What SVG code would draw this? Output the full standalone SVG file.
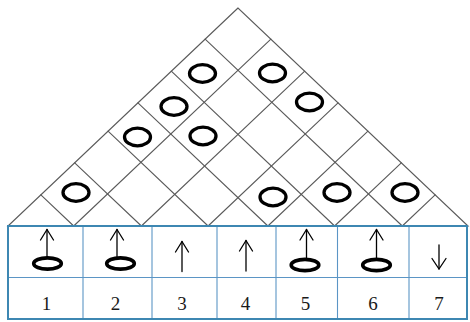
<svg xmlns="http://www.w3.org/2000/svg" width="470" height="322" viewBox="0 0 470 322">
<style>
.g{stroke:#5a5a5a;stroke-width:1.1;fill:none;stroke-linecap:round}
.c{fill:none;stroke:#000;stroke-width:3.3}
.e{fill:none;stroke:#000;stroke-width:3.6}
.a{fill:none;stroke:#000;stroke-width:1.3;stroke-linecap:round;stroke-linejoin:round}
.tb{fill:none;stroke:#3d87b2;stroke-width:2}
.tl{stroke:#5b95c5;stroke-width:1.1}
.n{font-family:"Liberation Serif",serif;font-size:19px;text-anchor:middle;fill:#1a1a1a}
</style>
<rect width="470" height="322" fill="#fff"/>
<g id="grid" class="g">
<polygon points="238,8 8,226 468,226"/>
<line x1="205.14" y1="39.14" x2="402.29" y2="226"/>
<line x1="171.3" y1="71.22" x2="334.6" y2="226"/>
<line x1="137.95" y1="102.83" x2="267.9" y2="226"/>
<line x1="108.05" y1="131.17" x2="208.1" y2="226"/>
<line x1="74.7" y1="162.78" x2="141.4" y2="226"/>
<line x1="40.86" y1="194.86" x2="73.71" y2="226"/>
<line x1="270.86" y1="39.14" x2="73.71" y2="226"/>
<line x1="304.7" y1="71.22" x2="141.4" y2="226"/>
<line x1="338.05" y1="102.83" x2="208.1" y2="226"/>
<line x1="367.95" y1="131.17" x2="267.9" y2="226"/>
<line x1="401.3" y1="162.78" x2="334.6" y2="226"/>
<line x1="435.14" y1="194.86" x2="402.29" y2="226"/>
</g>
<g id="circles">
<ellipse id="c1" class="c" cx="202.5" cy="73.5" rx="13" ry="8.8"/>
<ellipse id="c2" class="c" cx="272.5" cy="73" rx="13" ry="8.8"/>
<ellipse id="c3" class="c" cx="174" cy="106.5" rx="13" ry="8.8"/>
<ellipse id="c4" class="c" cx="309.5" cy="102" rx="13" ry="8.8"/>
<ellipse id="c5" class="c" cx="137.5" cy="137" rx="13" ry="8.8"/>
<ellipse id="c6" class="c" cx="203" cy="136" rx="13" ry="8.8"/>
<ellipse id="c7" class="c" cx="76" cy="192.5" rx="13" ry="8.8"/>
<ellipse id="c8" class="c" cx="273" cy="197" rx="13" ry="8.8"/>
<ellipse id="c9" class="c" cx="337" cy="192.5" rx="13" ry="8.8"/>
<ellipse id="c10" class="c" cx="405" cy="192.5" rx="13" ry="8.8"/>
</g>
<g id="table">
<line class="tl" x1="8" y1="277.5" x2="467" y2="277.5"/>
<line class="tl" x1="83" y1="226" x2="83" y2="319"/>
<line class="tl" x1="152" y1="226" x2="152" y2="319"/>
<line class="tl" x1="217" y1="226" x2="217" y2="319"/>
<line class="tl" x1="276" y1="226" x2="276" y2="319"/>
<line class="tl" x1="337.5" y1="226" x2="337.5" y2="319"/>
<line class="tl" x1="409" y1="226" x2="409" y2="319"/>
<rect class="tb" x="8" y="226" width="459" height="93"/>
</g>
<g id="col1"><polyline class="a" points="40.5,240 47,229.5 53.5,240"/><line class="a" x1="47" y1="229.5" x2="47" y2="258"/><ellipse class="e" cx="47.5" cy="263.5" rx="13.8" ry="5.6"/><text class="n" x="46.5" y="310">1</text></g>
<g id="col2"><polyline class="a" points="110.5,240 117,229.5 123.5,240"/><line class="a" x1="117" y1="229.5" x2="117" y2="258"/><ellipse class="e" cx="120.5" cy="263.5" rx="13.8" ry="5.6"/><text class="n" x="115.5" y="310">2</text></g>
<g id="col3"><polyline class="a" points="175.5,252 182,241.5 188.5,252"/><line class="a" x1="182" y1="241.5" x2="182" y2="271.5"/><text class="n" x="182" y="310">3</text></g>
<g id="col4"><polyline class="a" points="239.5,251 246,240.5 252.5,251"/><line class="a" x1="246" y1="240.5" x2="246" y2="271"/><text class="n" x="245.5" y="310">4</text></g>
<g id="col5"><polyline class="a" points="300,240 306.5,229.5 313,240"/><line class="a" x1="306.5" y1="229.5" x2="306.5" y2="259"/><ellipse class="e" cx="305" cy="265" rx="13.8" ry="5.6"/><text class="n" x="305.5" y="310">5</text></g>
<g id="col6"><polyline class="a" points="370,240 376.5,229.5 383,240"/><line class="a" x1="376.5" y1="229.5" x2="376.5" y2="259"/><ellipse class="e" cx="376.5" cy="265" rx="13.8" ry="5.6"/><text class="n" x="373" y="310">6</text></g>
<g id="col7"><line class="a" x1="439" y1="245" x2="439" y2="269"/><polyline class="a" points="432,258.5 439,269 446,258.5"/><text class="n" x="439" y="310">7</text></g>
</svg>
